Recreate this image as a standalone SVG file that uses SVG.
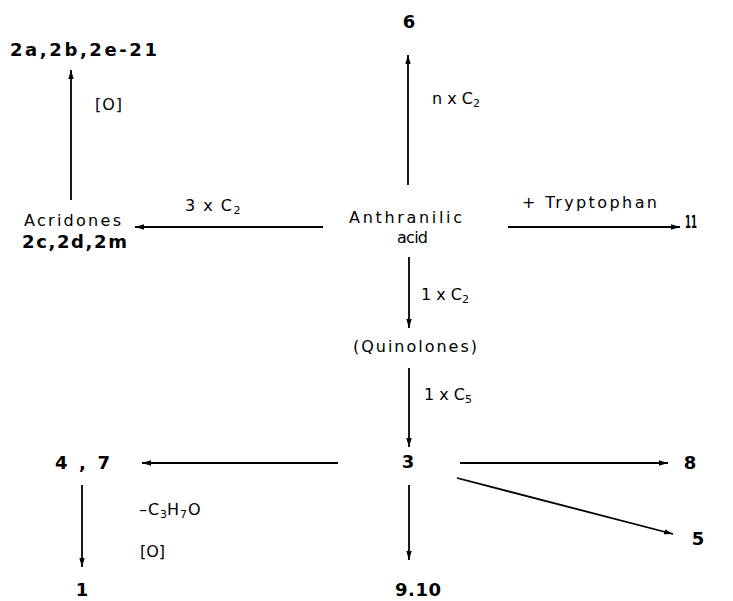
<svg xmlns="http://www.w3.org/2000/svg" width="733" height="601" viewBox="0 0 733 601">
<style>
  .lbl { font-family: "DejaVu Sans", "Liberation Sans", sans-serif; font-size: 16px; fill: #000; }
  .num { font-family: "DejaVu Sans", "Liberation Sans", sans-serif; font-size: 18px; font-weight: bold; fill: #000; }
  .sub { font-size: 11px; }
  .arrow { stroke: #000; stroke-width: 1.8; fill: none; marker-end: url(#ah); }
</style>
<defs>
  <marker id="ah" viewBox="0 0 10 6" refX="10" refY="3" markerWidth="9" markerHeight="5.4" markerUnits="userSpaceOnUse" orient="auto">
    <path d="M0,0 L10,3 L0,6 z" fill="#000"/>
  </marker>
</defs>
<rect width="733" height="601" fill="#fff"/>

<g id="connectors">
  <line class="arrow" x1="71" y1="200" x2="71" y2="70"/>
  <line class="arrow" x1="323" y1="227" x2="135" y2="227"/>
  <line class="arrow" x1="408" y1="185" x2="408" y2="55"/>
  <line class="arrow" x1="508" y1="227" x2="680" y2="227"/>
  <line class="arrow" x1="409" y1="257" x2="409" y2="328"/>
  <line class="arrow" x1="409" y1="368" x2="409" y2="447"/>
  <line class="arrow" x1="338" y1="463" x2="142" y2="463"/>
  <line class="arrow" x1="460" y1="463" x2="668" y2="463"/>
  <line class="arrow" x1="457" y1="478" x2="673" y2="534"/>
  <line class="arrow" x1="409" y1="485" x2="409" y2="560"/>
  <line class="arrow" x1="82" y1="485" x2="82" y2="567"/>
  <g id="edge-labels">
    <text class="lbl" x="95" y="110" textLength="27" lengthAdjust="spacing">[O]</text>
    <text class="lbl" x="185" y="211" letter-spacing="1.5">3 x C<tspan class="sub" dy="3">2</tspan></text>
    <text class="lbl" x="432" y="104" font-size="15">n x C<tspan class="sub" dy="3">2</tspan></text>
    <text class="lbl" x="522" y="208" textLength="135" lengthAdjust="spacing">+ Tryptophan</text>
    <text class="lbl" x="421" y="300">1 x C<tspan class="sub" dy="3">2</tspan></text>
    <text class="lbl" x="424" y="400">1 x C<tspan class="sub" dy="3">5</tspan></text>
    <text class="lbl" y="515"><tspan x="139">–</tspan><tspan x="148">C</tspan><tspan class="sub" x="160" dy="3">3</tspan><tspan x="167" dy="-3">H</tspan><tspan class="sub" x="180" dy="3">7</tspan><tspan x="188" dy="-3">O</tspan></text>
    <text class="lbl" x="140" y="557" textLength="25" lengthAdjust="spacing">[O]</text>
  </g>
</g>

<g id="node-2a">
  <text class="num" x="10" y="56" textLength="147" lengthAdjust="spacing">2a,2b,2e-21</text>
</g>
<g id="node-acridones">
  <text class="lbl" x="24" y="226" textLength="97" lengthAdjust="spacing">Acridones</text>
  <text class="num" x="22" y="248" textLength="105" lengthAdjust="spacing">2c,2d,2m</text>
</g>
<g id="node-6">
  <text class="num" x="409" y="28" text-anchor="middle">6</text>
</g>
<g id="node-anthranilic">
  <text class="lbl" x="349" y="223" textLength="113" lengthAdjust="spacing">Anthranilic</text>
  <text class="lbl" x="397" y="243" textLength="31" lengthAdjust="spacing">acid</text>
</g>
<g id="node-11">
  <text class="num" x="685" y="228" font-family="Liberation Sans, sans-serif" textLength="12" lengthAdjust="spacingAndGlyphs">11</text>
</g>
<g id="node-quinolones">
  <text class="lbl" x="353" y="352" textLength="124" lengthAdjust="spacing">(Quinolones)</text>
</g>
<g id="node-3">
  <text class="num" x="408" y="468" text-anchor="middle">3</text>
</g>
<g id="node-4-7">
  <text class="num" x="55" y="469" textLength="55" lengthAdjust="spacing">4 , 7</text>
</g>
<g id="node-8">
  <text class="num" x="690" y="469" text-anchor="middle">8</text>
</g>
<g id="node-5">
  <text class="num" x="698" y="545" text-anchor="middle">5</text>
</g>
<g id="node-1">
  <text class="num" x="82" y="596" text-anchor="middle">1</text>
</g>
<g id="node-9-10">
  <text class="num" x="395" y="596" textLength="46" lengthAdjust="spacing">9.10</text>
</g>
</svg>
